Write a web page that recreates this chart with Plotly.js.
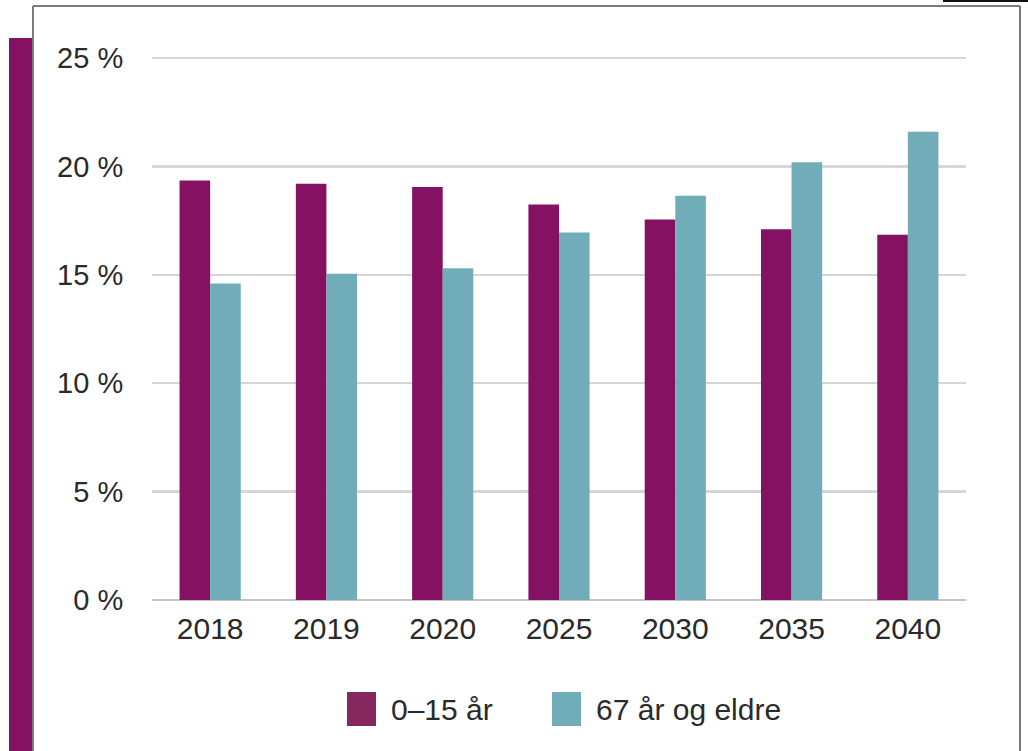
<!DOCTYPE html>
<html>
<head>
<meta charset="utf-8">
<script src="https://cdn.plot.ly/plotly-3.0.1.min.js"></script>
<style>
html,body{margin:0;padding:0;background:#fff;}
#chart{width:1028px;height:751px;}
</style>
</head>
<body>
<div id="chart"></div>
<script>
const categories = ["2018","2019","2020","2025","2030","2035","2040"];
const young = [19.35, 19.2, 19.05, 18.25, 17.55, 17.1, 16.85];
const old = [14.6, 15.05, 15.3, 16.95, 18.65, 20.2, 21.6];
const seriesNames = ["0\u201315 år", "67 år og eldre"];
const yTicks = [0, 5, 10, 15, 20, 25];
const yTickLabels = ["0 %", "5 %", "10 %", "15 %", "20 %", "25 %"];

const purple = "#841162";
const teal = "#70adb8";
const textColor = "#2a2a2a";
const font = "Liberation Sans, Arial, sans-serif";

const traces = [
  {type:"bar", x:categories, y:young, name:seriesNames[0], marker:{color:purple}, showlegend:false, hoverinfo:"skip"},
  {type:"bar", x:categories, y:old, name:seriesNames[1], marker:{color:teal}, showlegend:false, hoverinfo:"skip"}
];

// paper-coordinate helpers for the decorative frame / manual legend
const L = 152, R = 62, T = 57, B = 151, W = 1028, H = 751;
const pw = W - L - R, ph = H - T - B;
const px = v => (v - L) / pw;
const py = v => (H - B - v) / ph;

const shapes = [
  // purple side band
  {type:"rect", xref:"paper", yref:"paper", x0:px(9), x1:px(32), y0:py(751), y1:py(38), fillcolor:purple, line:{width:0}, layer:"below"},
  // frame
  {type:"line", xref:"paper", yref:"paper", x0:px(33), x1:px(33), y0:py(751), y1:py(6), line:{color:"#7a7a7a", width:2}},
  {type:"line", xref:"paper", yref:"paper", x0:px(33), x1:px(1020), y0:py(6), y1:py(6), line:{color:"#7a7a7a", width:2}},
  {type:"line", xref:"paper", yref:"paper", x0:px(1020), x1:px(1020), y0:py(6), y1:py(751), line:{color:"#7a7a7a", width:2}},
  // cut-off dark marks at top right edge
  {type:"rect", xref:"paper", yref:"paper", x0:px(943), x1:px(1028), y0:py(2), y1:py(0), fillcolor:"#111111", line:{width:0}},
  // legend swatches
  {type:"rect", xref:"paper", yref:"paper", x0:px(347), x1:px(376), y0:py(726), y1:py(692), fillcolor:"#86275f", line:{width:0}},
  {type:"rect", xref:"paper", yref:"paper", x0:px(552), x1:px(581), y0:py(726), y1:py(692), fillcolor:teal, line:{width:0}}
];

const annotations = [
  {xref:"paper", yref:"paper", x:px(389), y:py(709), xanchor:"left", yanchor:"middle", text:seriesNames[0], showarrow:false, font:{family:font, size:30, color:textColor}},
  {xref:"paper", yref:"paper", x:px(594), y:py(709), xanchor:"left", yanchor:"middle", text:seriesNames[1], showarrow:false, font:{family:font, size:30, color:textColor}}
];

const layout = {
  width:W, height:H,
  margin:{l:L, r:R, t:T, b:B, pad:0},
  paper_bgcolor:"#ffffff", plot_bgcolor:"#ffffff",
  barmode:"group", bargap:0.474, bargroupgap:0,
  showlegend:false,
  font:{family:font, color:textColor},
  xaxis:{
    type:"category", categoryorder:"array", categoryarray:categories,
    showgrid:false, zeroline:false, showline:false,
    ticks:"outside", ticklen:2, tickcolor:"rgba(0,0,0,0)",
    tickfont:{family:font, size:30, color:textColor},
    fixedrange:true
  },
  yaxis:{
    range:[0,25.05], tickvals:yTicks, ticktext:yTickLabels,
    showgrid:true, gridcolor:"#d6d6d6", gridwidth:2.5,
    zeroline:true, zerolinecolor:"#c4c4c4", zerolinewidth:2.5,
    showline:false,
    ticks:"outside", ticklen:22, tickcolor:"rgba(0,0,0,0)",
    tickfont:{family:font, size:29, color:textColor},
    fixedrange:true
  },
  shapes:shapes,
  annotations:annotations
};

Plotly.newPlot("chart", traces, layout, {displayModeBar:false, staticPlot:true});
</script>
</body>
</html>
